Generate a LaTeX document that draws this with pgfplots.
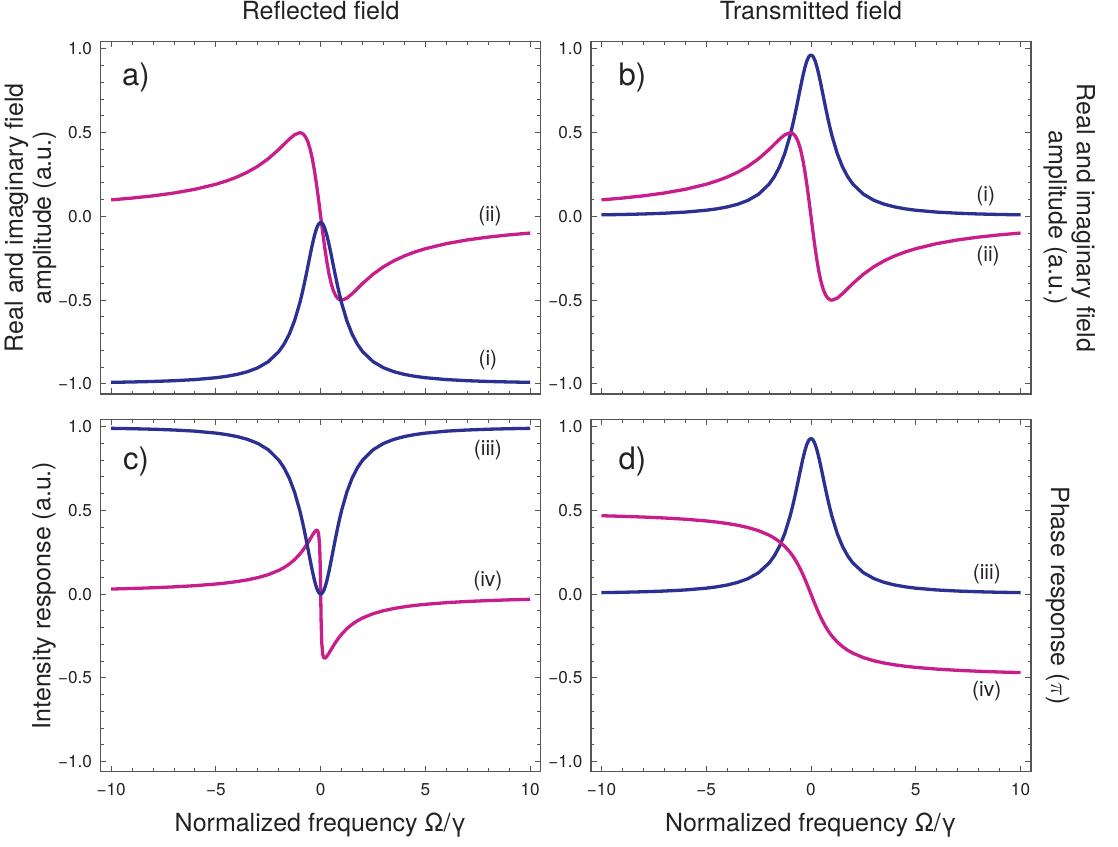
\documentclass[border=0pt]{standalone}
\usepackage{pgfplots}
\pgfplotsset{compat=1.18}
\usepackage{pgfplotstable}
\usepackage{fontspec}
\setmainfont{TeX Gyre Heros}
\definecolor{cblue}{HTML}{2B3192}
\definecolor{cpink}{HTML}{C81E8C}
\definecolor{framec}{HTML}{555555}
\definecolor{txt}{HTML}{222222}

% panel a: reflected field, (i) real part, (ii) imaginary part
\pgfplotstableread{
x b p
-10 -0.9905 0.0990
-9 -0.9882 0.1098
-8 -0.9852 0.1231
-7 -0.9807 0.1400
-6 -0.9739 0.1622
-5 -0.9629 0.1923
-4.5 -0.9546 0.2118
-4 -0.9432 0.2353
-3.5 -0.9272 0.2642
-3 -0.9035 0.3000
-2.5 -0.8669 0.3448
-2 -0.8070 0.4000
-1.75 -0.7625 0.4308
-1.5 -0.7031 0.4615
-1.25 -0.6234 0.4878
-1 -0.5175 0.5000
-0.9 -0.4669 0.4972
-0.8 -0.4116 0.4878
-0.7 -0.3524 0.4698
-0.6 -0.2904 0.4412
-0.5 -0.2280 0.4000
-0.4 -0.1681 0.3448
-0.3 -0.1147 0.2752
-0.2 -0.0721 0.1923
-0.1 -0.0446 0.0990
0 -0.0350 0
0.1 -0.0446 -0.0990
0.2 -0.0721 -0.1923
0.3 -0.1147 -0.2752
0.4 -0.1681 -0.3448
0.5 -0.2280 -0.4000
0.6 -0.2904 -0.4412
0.7 -0.3524 -0.4698
0.8 -0.4116 -0.4878
0.9 -0.4669 -0.4972
1 -0.5175 -0.5000
1.25 -0.6234 -0.4878
1.5 -0.7031 -0.4615
1.75 -0.7625 -0.4308
2 -0.8070 -0.4000
2.5 -0.8669 -0.3448
3 -0.9035 -0.3000
3.5 -0.9272 -0.2642
4 -0.9432 -0.2353
4.5 -0.9546 -0.2118
5 -0.9629 -0.1923
6 -0.9739 -0.1622
7 -0.9807 -0.1400
8 -0.9852 -0.1231
9 -0.9882 -0.1098
10 -0.9905 -0.0990
}\tabA

% panel b: transmitted field
\pgfplotstableread{
x b p
-10 0.0096 0.0990
-9 0.0118 0.1098
-8 0.0148 0.1231
-7 0.0193 0.1400
-6 0.0261 0.1622
-5 0.0371 0.1923
-4.5 0.0454 0.2118
-4 0.0568 0.2353
-3.5 0.0728 0.2642
-3 0.0965 0.3000
-2.5 0.1331 0.3448
-2 0.1930 0.4000
-1.75 0.2375 0.4308
-1.5 0.2969 0.4615
-1.25 0.3766 0.4878
-1 0.4825 0.5000
-0.9 0.5332 0.4972
-0.8 0.5884 0.4878
-0.7 0.6477 0.4698
-0.6 0.7096 0.4412
-0.5 0.7720 0.4000
-0.4 0.8319 0.3448
-0.3 0.8853 0.2752
-0.2 0.9279 0.1923
-0.1 0.9554 0.0990
0 0.9650 0
0.1 0.9554 -0.0990
0.2 0.9279 -0.1923
0.3 0.8853 -0.2752
0.4 0.8319 -0.3448
0.5 0.7720 -0.4000
0.6 0.7096 -0.4412
0.7 0.6477 -0.4698
0.8 0.5884 -0.4878
0.9 0.5332 -0.4972
1 0.4825 -0.5000
1.25 0.3766 -0.4878
1.5 0.2969 -0.4615
1.75 0.2375 -0.4308
2 0.1930 -0.4000
2.5 0.1331 -0.3448
3 0.0965 -0.3000
3.5 0.0728 -0.2642
4 0.0568 -0.2353
4.5 0.0454 -0.2118
5 0.0371 -0.1923
6 0.0261 -0.1622
7 0.0193 -0.1400
8 0.0148 -0.1231
9 0.0118 -0.1098
10 0.0096 -0.0990
}\tabB

% panel c: reflected intensity (iii) and phase (iv)
\pgfplotstableread{
x b p
-10 0.9901 0.0306
-9 0.9879 0.0340
-8 0.9848 0.0382
-7 0.9802 0.0436
-6 0.9733 0.0507
-5 0.9616 0.0606
-4.5 0.9530 0.0671
-4 0.9413 0.0752
-3.5 0.9246 0.0854
-3 0.9001 0.0987
-2.5 0.8622 0.1166
-2 0.8002 0.1420
-1.75 0.7543 0.1589
-1.5 0.6927 0.1798
-1.25 0.6102 0.2059
-1 0.5006 0.2389
-0.9 0.4482 0.2543
-0.8 0.3910 0.2713
-0.7 0.3297 0.2897
-0.6 0.2656 0.3094
-0.5 0.2010 0.3302
-0.4 0.1390 0.3511
-0.3 0.0837 0.3702
-0.25 0.0600 0.3777
-0.2 0.0396 0.3820
-0.15 0.0232 0.3796
-0.1 0.0111 0.3611
-0.05 0.0037 0.2897
-0.02 0.0016 0.1588
0 0.0012 0
0.02 0.0016 -0.1588
0.05 0.0037 -0.2897
0.1 0.0111 -0.3611
0.15 0.0232 -0.3796
0.2 0.0396 -0.3820
0.25 0.0600 -0.3777
0.3 0.0837 -0.3702
0.4 0.1390 -0.3511
0.5 0.2010 -0.3302
0.6 0.2656 -0.3094
0.7 0.3297 -0.2897
0.8 0.3910 -0.2713
0.9 0.4482 -0.2543
1 0.5006 -0.2389
1.25 0.6102 -0.2059
1.5 0.6927 -0.1798
1.75 0.7543 -0.1589
2 0.8002 -0.1420
2.5 0.8622 -0.1166
3 0.9001 -0.0987
3.5 0.9246 -0.0854
4 0.9413 -0.0752
4.5 0.9530 -0.0671
5 0.9616 -0.0606
6 0.9733 -0.0507
7 0.9802 -0.0436
8 0.9848 -0.0382
9 0.9879 -0.0340
10 0.9901 -0.0306
}\tabC

% panel d: transmitted intensity (iii) and phase (iv)
\pgfplotstableread{
x b p
-10 0.0092 0.4683
-9 0.0113 0.4648
-8 0.0143 0.4604
-7 0.0186 0.4548
-6 0.0251 0.4474
-5 0.0358 0.4372
-4.5 0.0438 0.4304
-4 0.0547 0.4220
-3.5 0.0702 0.4114
-3 0.0930 0.3976
-2.5 0.1283 0.3789
-2 0.1860 0.3524
-1.75 0.2289 0.3348
-1.5 0.2862 0.3128
-1.25 0.3629 0.2852
-1 0.4650 0.2500
-0.9 0.5138 0.2333
-0.8 0.5671 0.2148
-0.7 0.6242 0.1944
-0.6 0.6838 0.1720
-0.5 0.7440 0.1476
-0.4 0.8017 0.1211
-0.3 0.8532 0.0928
-0.2 0.8942 0.0628
-0.1 0.9208 0.0317
0 0.9300 0
0.1 0.9208 -0.0317
0.2 0.8942 -0.0628
0.3 0.8532 -0.0928
0.4 0.8017 -0.1211
0.5 0.7440 -0.1476
0.6 0.6838 -0.1720
0.7 0.6242 -0.1944
0.8 0.5671 -0.2148
0.9 0.5138 -0.2333
1 0.4650 -0.2500
1.25 0.3629 -0.2852
1.5 0.2862 -0.3128
1.75 0.2289 -0.3348
2 0.1860 -0.3524
2.5 0.1283 -0.3789
3 0.0930 -0.3976
3.5 0.0702 -0.4114
4 0.0547 -0.4220
4.5 0.0438 -0.4304
5 0.0358 -0.4372
6 0.0251 -0.4474
7 0.0186 -0.4548
8 0.0143 -0.4604
9 0.0113 -0.4648
10 0.0092 -0.4683
}\tabD

\pgfplotsset{
  panel/.style={
    scale only axis, width=220pt, height=176.2pt,
    xmin=-10.5, xmax=10.5, ymin=-1.06, ymax=1.044,
    axis line style={framec, line width=0.6pt},
    tick align=inside,
    major tick length=2.8pt, minor tick length=1.7pt,
    every tick/.style={framec, line width=0.5pt},
    xtick={-10,-5,0,5,10},
    minor xtick={-9,-8,-7,-6,-4,-3,-2,-1,1,2,3,4,6,7,8,9},
    ytick={-1,-0.5,0,0.5,1},
    minor ytick={-0.9,-0.8,-0.7,-0.6,-0.4,-0.3,-0.2,-0.1,0.1,0.2,0.3,0.4,0.6,0.7,0.8,0.9},
    yticklabels={−1.0,−0.5,0.0,0.5,1.0},
    xticklabels={},
    tick label style={font=\fontsize{8.6}{10}\selectfont, text=txt},
    yticklabel style={xshift=-0.8pt},
    xticklabel style={yshift=-2.2pt},
    label style={font=\fontsize{12.5}{14}\selectfont, text=txt},
    title style={font=\fontsize{12.5}{14}\selectfont, text=txt, at={(0.5,1)}, anchor=base, yshift=5.2pt},
  },
  bluec/.style={cblue, line width=1.65pt, line join=round},
  pinkc/.style={cpink, line width=1.65pt, line join=round},
}
\tikzset{
  letter/.style={font=\fontsize{15.5}{17}\selectfont, text=txt, anchor=west, inner sep=0pt},
  clab/.style={font=\fontsize{10.5}{12}\selectfont, text=txt},
}

\begin{document}
\begin{tikzpicture}
\useasboundingbox (0,0) rectangle (559pt,423pt);

% a) reflected field
\begin{axis}[panel, at={(50.35pt,226pt)}, anchor=south west,
  title={Reflected field},
  ylabel={Real and imaginary field\\amplitude (a.u.)},
  ylabel style={align=center, at={(axis description cs:-0.1595,0.5)}, anchor=center}]
  \addplot[pinkc] table[x=x,y=p]{\tabA};
  \addplot[bluec] table[x=x,y=b]{\tabA};
  \node[letter] at (axis cs:-9.5,0.83) {a)};
  \node[clab] at (axis cs:8.08,0.0) {(ii)};
  \node[clab] at (axis cs:7.98,-0.86) {(i)};
\end{axis}

% b) transmitted field
\begin{axis}[panel, at={(295.5pt,226pt)}, anchor=south west,
  title={Transmitted field},
  ylabel={Real and imaginary field\\amplitude (a.u.)},
  ylabel style={align=center, at={(axis description cs:1.087,0.5)}, rotate=180, anchor=center}]
  \addplot[bluec] table[x=x,y=b]{\tabB};
  \addplot[pinkc] table[x=x,y=p]{\tabB};
  \node[letter] at (axis cs:-9.2,0.83) {b)};
  \node[clab] at (axis cs:8.34,0.12) {(i)};
  \node[clab] at (axis cs:8.45,-0.235) {(ii)};
\end{axis}

% c) reflected intensity and phase
\begin{axis}[panel, at={(50.35pt,37.15pt)}, anchor=south west,
  xticklabels={−10,−5,0,5,10},
  xlabel={Normalized frequency Ω/γ},
  xlabel style={at={(axis description cs:0.5,-0.17)}, anchor=base},
  ylabel={Intensity response (a.u.)},
  ylabel style={at={(axis description cs:-0.129,0.5)}, anchor=center}]
  \addplot[pinkc] table[x=x,y=p]{\tabC};
  \addplot[bluec] table[x=x,y=b]{\tabC};
  \node[letter] at (axis cs:-9.45,0.79) {c)};
  \node[clab] at (axis cs:7.98,0.86) {(iii)};
  \node[clab] at (axis cs:7.98,0.077) {(iv)};
\end{axis}

% d) transmitted intensity and phase
\begin{axis}[panel, at={(295.5pt,37.15pt)}, anchor=south west,
  xticklabels={−10,−5,0,5,10},
  xlabel={Normalized frequency Ω/γ},
  xlabel style={at={(axis description cs:0.5,-0.17)}, anchor=base},
  ylabel={Phase response ($\pi$)},
  ylabel style={at={(axis description cs:1.06,0.5)}, rotate=180, anchor=center}]
  \addplot[bluec] table[x=x,y=b]{\tabD};
  \addplot[pinkc] table[x=x,y=p]{\tabD};
  \node[letter] at (axis cs:-9.2,0.79) {d)};
  \node[clab] at (axis cs:8.39,0.12) {(iii)};
  \node[clab] at (axis cs:8.39,-0.58) {(iv)};
\end{axis}
\end{tikzpicture}
\end{document}
